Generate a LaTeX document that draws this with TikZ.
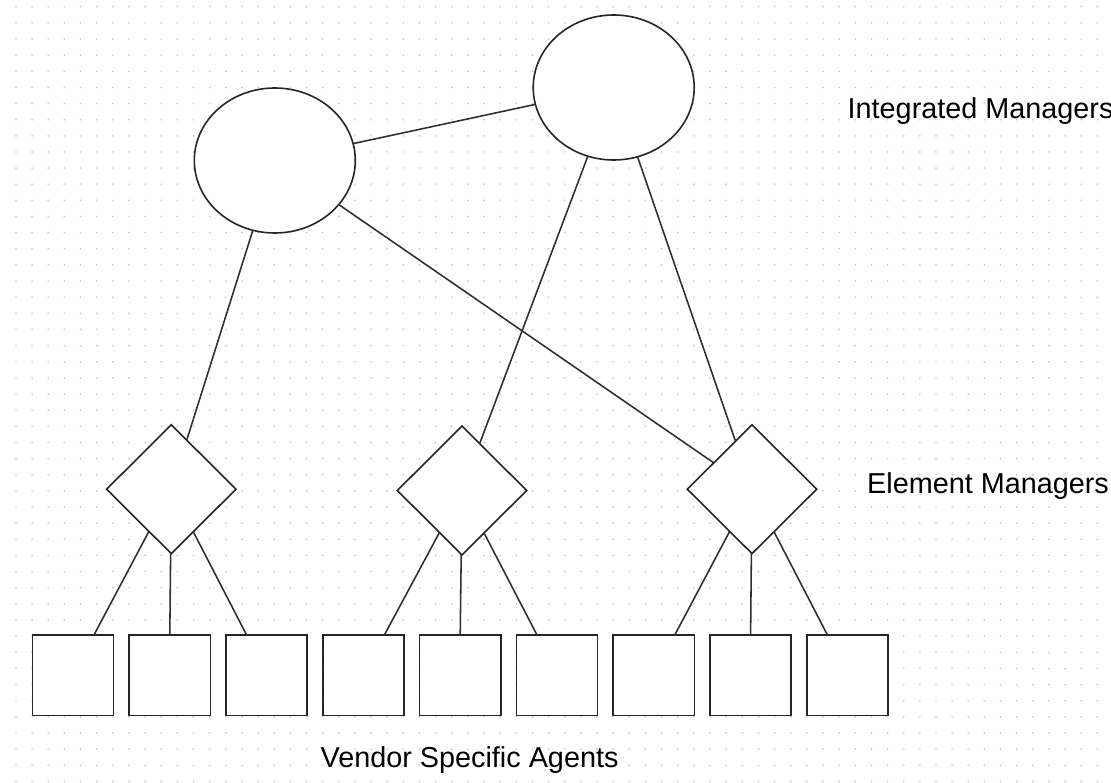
\documentclass[tikz,border=0pt]{standalone}
\usepackage{fontspec}
\setmainfont{Liberation Sans}
\usetikzlibrary{shapes.geometric}

\begin{document}
\begin{tikzpicture}[x=1pt,y=-1pt,
  link/.style={draw=black!82,line width=1.55pt},
  mgr/.style={ellipse,draw=black!85,line width=1.6pt,fill=white,
    minimum width=161pt,minimum height=145pt,inner sep=0pt,outer sep=0pt},
  elem/.style={diamond,draw=black!85,line width=1.6pt,fill=white,
    minimum width=129.4pt,minimum height=128.8pt,inner sep=0pt,outer sep=0pt},
  agent/.style={rectangle,draw=black!85,line width=1.6pt,fill=white,
    minimum width=81.3pt,minimum height=80.7pt,inner sep=0pt,outer sep=0pt},
  lbl/.style={font=\fontsize{28.8}{34}\selectfont,inner sep=0pt,anchor=base west}]

\useasboundingbox (0,0) rectangle (1111,783);
\fill[white] (0,0) rectangle (1111,783);

% dotted background grid
\foreach \i in {0,...,67}
  \foreach \j in {0,...,48}
    \fill[black!22] (16+\i*16.14,6.7+\j*16.14) circle[radius=0.95pt];

% integrated managers
\node[mgr] (im1) at (274.8,160.5) {};
\node[mgr] (im2) at (613.7,87.5) {};

% element managers
\node[elem] (em1) at (171.3,489.2) {};
\node[elem] (em2) at (462,490.5) {};
\node[elem] (em3) at (752,489.2) {};

% vendor specific agents
\foreach \k in {1,...,9}
  \node[agent] (ag\k) at (73+96.8*\k-96.8,675.3) {};

% manager links
\draw[link] (im1) -- (im2);
\draw[link] (im1) -- (em1);
\draw[link] (im1) -- (em3);
\draw[link] (im2) -- (em2);
\draw[link] (im2) -- (em3);

% agent links
\draw[link] ([xshift=21pt]ag1.north) -- (em1);
\draw[link] (ag2.north) -- (em1);
\draw[link] ([xshift=-20pt]ag3.north) -- (em1);
\draw[link] ([xshift=21pt]ag4.north) -- (em2);
\draw[link] (ag5.north) -- (em2);
\draw[link] ([xshift=-20pt]ag6.north) -- (em2);
\draw[link] ([xshift=21pt]ag7.north) -- (em3);
\draw[link] (ag8.north) -- (em3);
\draw[link] ([xshift=-20pt]ag9.north) -- (em3);

% level labels
\node[lbl] (t1) at (847.5,118.5) {Integrated Managers};
\node[lbl] (t2) at (867,493) {Element Managers};
\node[lbl] (t3) at (320.5,767) {Vendor Specific Agents};
\end{tikzpicture}
\end{document}
